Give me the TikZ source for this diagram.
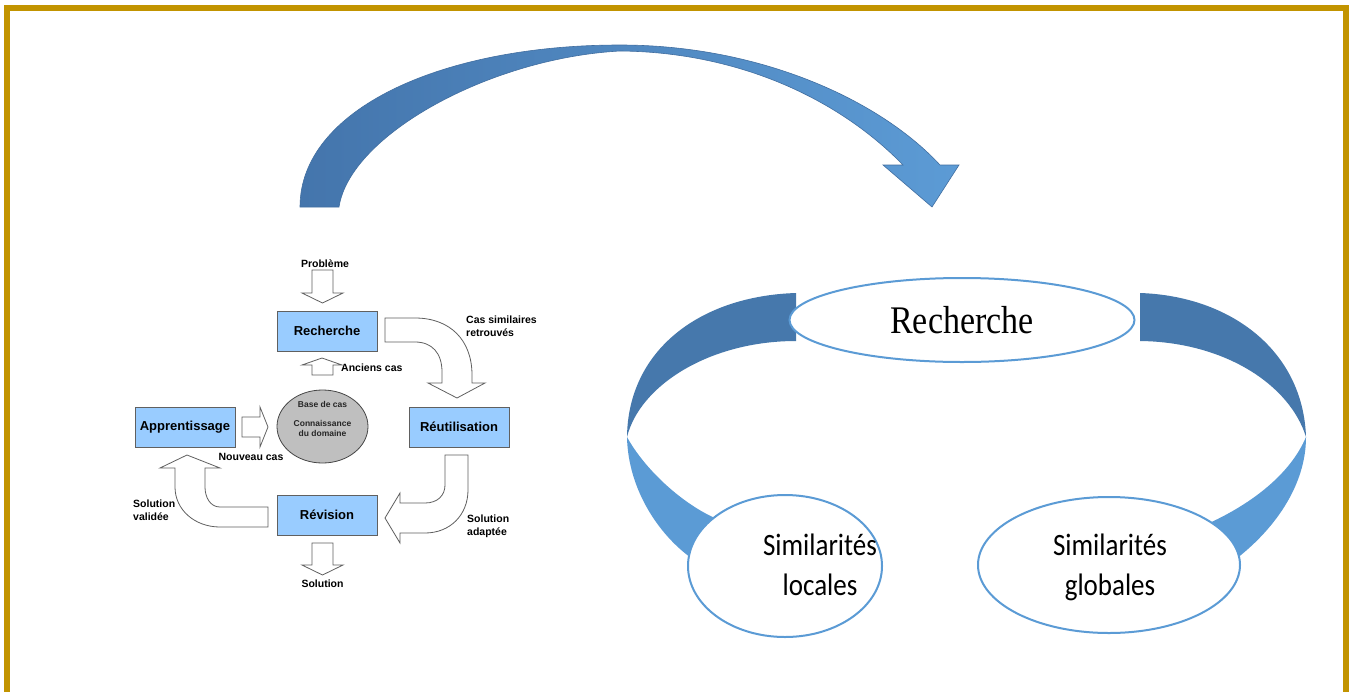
\documentclass[tikz,border=0pt]{standalone}
\usepackage{fontspec}
\usepackage{graphicx}
\usetikzlibrary{shapes.geometric}
\setmainfont{Liberation Sans}
\newfontfamily\timesfont{Liberation Serif}
\newfontfamily\calfont{Carlito}
\definecolor{framegold}{RGB}{194,148,0}
\definecolor{boxblue}{RGB}{153,204,255}
\definecolor{bandDark}{RGB}{70,120,172}
\definecolor{bandLight}{RGB}{91,155,213}
\definecolor{ellline}{RGB}{91,155,213}
\definecolor{arcDark}{RGB}{68,117,172}
\definecolor{arcLight}{RGB}{92,155,213}
\definecolor{arcEdge}{RGB}{65,110,160}
\begin{document}
\begin{tikzpicture}[x=1pt,y=-1pt,
  cbrbox/.style={draw=gray!75!black, fill=boxblue, minimum width=100pt, minimum height=40pt,
    font=\fontsize{13}{15}\selectfont\bfseries, inner sep=0pt, line width=0.8pt},
  lbl/.style={font=\fontsize{10.5}{13}\selectfont\bfseries, inner sep=0pt, align=left},
  basetxt/.style={font=\fontsize{8.5}{10}\selectfont\bfseries, inner sep=0pt, align=center, text=black!85},
  hollow/.style={draw=gray!75!black, fill=white, line width=0.8pt, line join=miter},
  bigell/.style={ellipse, draw=ellline, fill=white, line width=2pt, inner sep=0pt},
  simtxt/.style={font=\calfont\fontsize{27}{30}\selectfont, inner sep=0pt, anchor=base}
]
\useasboundingbox (0,0) rectangle (1352,691);
\fill[white] (0,0) rectangle (1352,691);
% frame
\draw[framegold, line width=6pt] (6.5,8) rectangle (1346,697);

% big curved arrow
\shade[left color=arcDark, right color=arcLight, draw=arcEdge, line width=0.6pt]
  (300,207) .. controls (300,110) and (440,45) .. (620,45)
  .. controls (760,45) and (880,100) .. (940,165)
  -- (959,165) -- (932,207) -- (883,165) -- (903,165)
  .. controls (840,100) and (740,52) .. (620,51)
  .. controls (490,58) and (350,135) .. (339,207) -- cycle;

% ---------------- left CBR cycle ----------------
\node[cbrbox] (rech) at (327,331) {Recherche};
\node[cbrbox] (reut) at (459,427) {Réutilisation};
\node[cbrbox] (revi) at (327,515) {Révision};
\node[cbrbox] (appr) at (185,427) {Apprentissage};
\node[ellipse, draw=gray!55!black, fill=gray!50, line width=0.8pt,
      minimum width=91pt, minimum height=73pt, inner sep=0pt] (base) at (322.5,426.5) {};
\node[basetxt] (basea) at (322.5,404) {Base de cas};
\node[basetxt] (baseb) at (322.5,428) {Connaissance\\du domaine};

\node[lbl] (prob) at (325,264) {Problème};
\node[lbl, anchor=west] (anc) at (341,368) {Anciens cas};
\node[lbl] (nouv) at (251,457) {Nouveau cas};
\node[lbl, anchor=west] (cass) at (466,326.5) {Cas similaires\\retrouvés};
\node[lbl, anchor=west] (solv) at (133,510.5) {Solution\\validée};
\node[lbl, anchor=west] (sola) at (467,526) {Solution\\adaptée};
\node[lbl] (sol) at (322.5,584) {Solution};

% straight hollow arrows
\draw[hollow] (312,270) -- (333,270) -- (333,293) -- (343,293) -- (322.5,303) -- (302,293) -- (312,293) -- cycle;
\draw[hollow] (312,375) -- (333,375) -- (333,365) -- (342,365) -- (322,358) -- (302,365) -- (312,365) -- cycle;
\draw[hollow] (242,417) -- (260,417) -- (260,407) -- (268,427) -- (260,447) -- (260,437) -- (242,437) -- cycle;
\draw[hollow] (312,543) -- (333,543) -- (333,565) -- (343,565) -- (322.5,575) -- (302,565) -- (312,565) -- cycle;

% curved hollow arrows
\draw[hollow] (385,318) -- (415,318) .. controls (450,318) and (472,340) .. (472,375) -- (472,383)
  -- (485,383) -- (457,398) -- (428,383) -- (442,383) -- (442,372)
  .. controls (442,353) and (432,342) .. (415,342) -- (385,342) -- cycle;
\draw[hollow] (445,455) -- (468,455) -- (468,490) .. controls (468,515) and (450,533) .. (425,533)
  -- (400,533) -- (400,543) -- (385,518) -- (400,493) -- (400,503) -- (425,503)
  .. controls (438,503) and (445,495) .. (445,485) -- cycle;
\draw[hollow] (268,507) -- (220,507) .. controls (210,507) and (205,497) .. (205,487) -- (205,468)
  -- (220,468) -- (187,455) -- (160,468) -- (175,468) -- (175,487)
  .. controls (175,510) and (195,527) .. (220,527) -- (268,527) -- cycle;

% ---------------- right diagram ----------------
% twisted bands
\fill[bandDark] (796,293) .. controls (700,296) and (628,350) .. (627,437)
  .. controls (640,385) and (710,341) .. (796,341) -- cycle;
\fill[bandLight] (627,437) .. controls (628,490) and (660,538) .. (697,562)
  -- (722,521) .. controls (685,507) and (645,470) .. (627,437) -- cycle;
\fill[bandDark] (1140,293) .. controls (1230,296) and (1303,350) .. (1306,437)
  .. controls (1290,385) and (1225,342) .. (1140,341) -- cycle;
\fill[bandLight] (1306,437) .. controls (1306,485) and (1275,530) .. (1232,562)
  -- (1205,525) .. controls (1250,505) and (1290,475) .. (1306,437) -- cycle;

\node[bigell, minimum width=345pt, minimum height=84pt] (srech) at (962,320) {};
\node[bigell, minimum width=194pt, minimum height=142pt] (sloc) at (785,566) {};
\node[bigell, minimum width=262pt, minimum height=136pt] (sglob) at (1109,565) {};

\node[font=\timesfont\fontsize{34}{40}\selectfont, inner sep=0pt] (trech) at (srech) {\scalebox{1}[1.15]{Recherche}};
\node[simtxt] (tloc1) at (820,555) {\scalebox{1}[1.15]{Similarités}};
\node[simtxt] (tloc2) at (820,595) {\scalebox{1}[1.15]{locales}};
\node[simtxt] (tglob1) at (1110,555) {\scalebox{1}[1.15]{Similarités}};
\node[simtxt] (tglob2) at (1110,595) {\scalebox{1}[1.15]{globales}};
\end{tikzpicture}
\end{document}
